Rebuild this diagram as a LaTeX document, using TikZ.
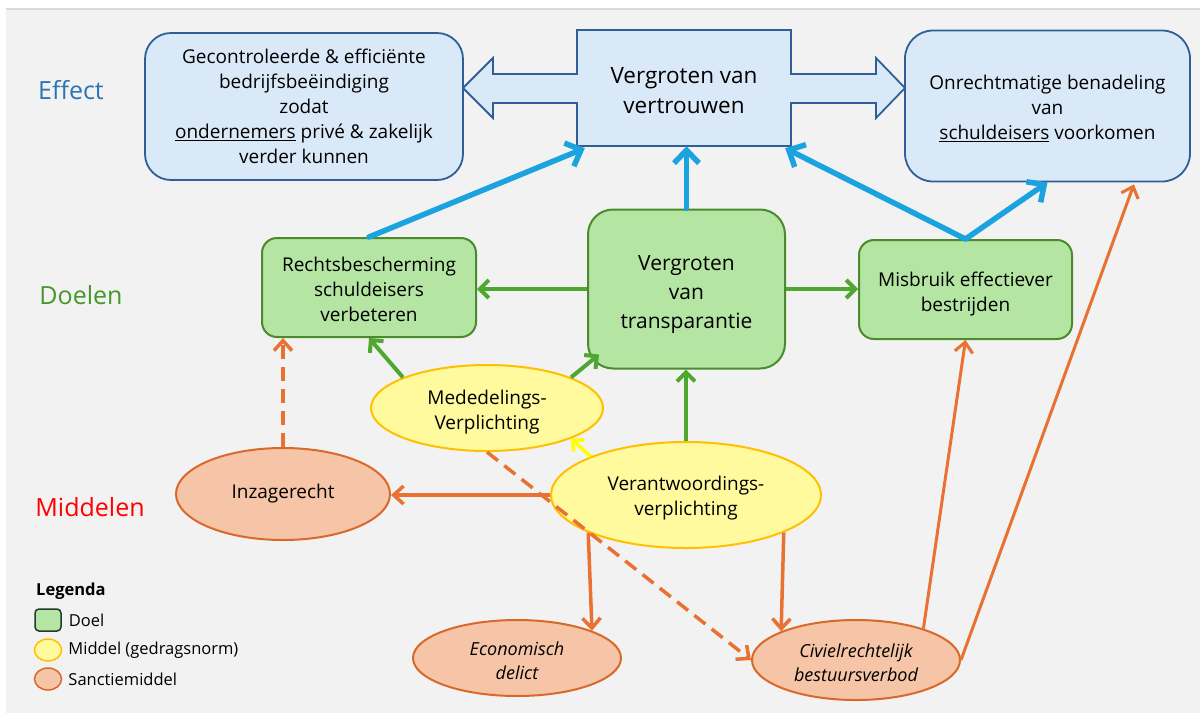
\documentclass[tikz,border=0pt]{standalone}
\usepackage{fontspec}
\setmainfont{Open Sans}
\usepackage{tikz}
\usetikzlibrary{positioning,arrows.meta,shapes,calc}

\definecolor{bgGrey}{HTML}{F2F2F2}
\definecolor{rimGrey}{HTML}{D9D9D9}
\definecolor{effectFill}{HTML}{DAE9F7}
\definecolor{effectLine}{HTML}{2F5F96}
\definecolor{effectText}{HTML}{2E74B5}
\definecolor{trustBlue}{HTML}{1AA3DE}
\definecolor{goalFill}{HTML}{B4E5A2}
\definecolor{goalLine}{HTML}{4C8A2E}
\definecolor{aimGreen}{HTML}{4EA72E}
\definecolor{meansFill}{HTML}{FFFA9E}
\definecolor{meansLine}{HTML}{FFC000}
\definecolor{signalYellow}{HTML}{FFFF00}
\definecolor{sanctFill}{HTML}{F6C4A6}
\definecolor{sanctLine}{HTML}{D9692B}
\definecolor{enforceOrange}{HTML}{E97132}
\definecolor{keyDark}{HTML}{1F3A2F}

\tikzset{
  effectbox/.style={draw=effectLine, fill=effectFill, line width=1.8pt,
    rounded corners=26pt, align=center, inner sep=0pt,
    font=\fontsize{19}{25}\selectfont},
  goal/.style={draw=goalLine, fill=goalFill, line width=2pt,
    rounded corners=15pt, align=center, inner sep=0pt,
    font=\fontsize{19}{25}\selectfont},
  means/.style={ellipse, draw=meansLine, fill=meansFill, line width=2pt,
    inner sep=0pt, align=center, font=\fontsize{19}{25}\selectfont},
  sanction/.style={ellipse, draw=sanctLine, fill=sanctFill, line width=2pt,
    inner sep=0pt, align=center, font=\fontsize{19}{25}\selectfont},
  trust/.style={draw=trustBlue, line width=5.5pt, line cap=round,
    -{Straight Barb[length=13pt,width=25pt]}},
  aim/.style={draw=aimGreen, line width=4pt,
    -{Straight Barb[length=9pt,width=18pt]}},
  signal/.style={draw=signalYellow, line width=3.5pt,
    -{Straight Barb[length=8pt,width=16pt]}},
  enforce/.style={draw=enforceOrange, line width=3.5pt,
    -{Straight Barb[length=10pt,width=18pt]}},
  hint/.style={enforce, dash pattern=on 14pt off 8pt},
  tier/.style={font=\fontsize{25}{30}\selectfont},
  keytext/.style={anchor=west, inner sep=0pt, font=\fontsize{16.5}{20}\selectfont},
  % keybox/.style={draw=keyDark, line width=1.5pt, minimum width=26, minimum height=22}
}

\begin{document}
\begin{tikzpicture}[x=1pt, y=-1pt]
  \useasboundingbox (0,0) rectangle (1200,713);
  \fill[white] (0,0) rectangle (1200,713);
  \fill[bgGrey] (6,9) rectangle (1200,713);
  \draw[rimGrey, line width=1.5pt] (6,9) -- (1200,9);

  % row labels
  \node[tier, text=effectText] (effect) at (71,90) {Effect};
  \node[tier, text=aimGreen!90!black] (doelen) at (81,295) {Doelen};
  \node[tier, text=red] (middelen) at (90,507) {Middelen};

  % effect row
  \draw[draw=effectLine, fill=effectFill, line width=1.8pt]
    (577,30) -- (791,30) -- (791,74) -- (876,74) -- (876,58) -- (905,88)
    -- (876,118) -- (876,103) -- (791,103) -- (791,146) -- (577,146)
    -- (577,103) -- (493,103) -- (493,118) -- (463,88) -- (493,58)
    -- (493,74) -- (577,74) -- cycle;
  \node[minimum width=214, minimum height=110, inner sep=0pt, align=center,
    font=\fontsize{22.5}{30}\selectfont] (vertrouwen) at (684,91)
    {Vergroten van\\vertrouwen};
  \node[effectbox, minimum width=318, minimum height=147] (bedrijf) at (304,106.5)
    {Gecontroleerde \& efficiënte\\bedrijfsbeëindiging\\zodat\\
     \underline{ondernemers} privé \& zakelijk\\verder kunnen};
  \node[effectbox, rounded corners=28pt, minimum width=285, minimum height=151] (onrecht) at (1047.5,106)
    {\rule{0pt}{20pt}Onrechtmatige benadeling\\van\\\underline{schuldeisers} voorkomen};

  % goals
  \node[goal, minimum width=214, minimum height=99] (rechts) at (369,287.5)
    {\rule{0pt}{18pt}Rechtsbescherming\\schuldeisers\\verbeteren};
  \node[goal, rounded corners=25pt, minimum width=197, minimum height=159,
    font=\fontsize{21}{29}\selectfont] (transp) at (686.5,289)
    {\rule{0pt}{26pt}Vergroten\\van\\transparantie};
  \node[goal, minimum width=213, minimum height=99] (misbruik) at (965.5,289.5)
    {\rule{0pt}{24pt}Misbruik effectiever\\bestrijden};

  % means
  \node[means, minimum width=232, minimum height=86] (mededeling) at (487,408)
    {\rule{0pt}{22pt}Mededelings-\\Verplichting};
  \node[means, minimum width=270, minimum height=106] (verantw) at (686,495)
    {\rule{0pt}{20pt}Verantwoordings-\\verplichting};
  \node[sanction, minimum width=214, minimum height=92] (inzage) at (283,494)
    {Inzagerecht};
  \node[sanction, minimum width=208, minimum height=76,
    font=\fontsize{18}{24}\selectfont\itshape] (economisch) at (517,658)
    {\rule{0pt}{20pt}Economisch\\delict};
  \node[sanction, minimum width=208, minimum height=80,
    font=\fontsize{18}{24}\selectfont\itshape] (civiel) at (856,660)
    {\rule{0pt}{20pt}Civielrechtelijk\\bestuursverbod};

  % connectors
  \draw[trust] (rechts.north) -- ($(vertrouwen.south west)+(8,2)$);
  \draw[trust] (transp.north) -- (transp.north |- vertrouwen.south);
  \draw[trust] (misbruik.north) -- ($(vertrouwen.south east)+(-6,2)$);
  \draw[trust] (misbruik.north) -- (onrecht.south);

  \draw[aim] (transp.west) -- (transp.west -| rechts.east);
  \draw[aim] (transp.east) -- (transp.east -| misbruik.west);
  \draw[aim] (mededeling.160) -- (rechts.south);
  \draw[aim] (mededeling.20) -- ($(transp.south west)+(12,-15)$);
  \draw[aim] (verantw.north) -- (verantw.north |- transp.south);

  \draw[signal] (verantw.158) -- (mededeling.-20);

  \draw[enforce] (verantw.west) -- (verantw.west -| inzage.east);
  \draw[hint] (inzage.north) -- (inzage.north |- rechts.south);
  \draw[hint] (mededeling.south) -- (civiel.west);
  \draw[enforce] (verantw.201) -- (economisch.20);
  \draw[enforce] (verantw.-21) -- (civiel.159);
  \draw[enforce, line width=3pt] (civiel.25) -- (misbruik.south);
  \draw[enforce, line width=3pt] (civiel.east) -- ($(onrecht.south east)+(-57,2)$);

  % legend
  \node[anchor=west, inner sep=0pt, font=\fontsize{16.5}{20}\selectfont\bfseries] (legenda) at (36,591) {Legenda};
  \node[draw=keyDark, fill=goalFill, line width=1.5pt, rounded corners=4pt,
    minimum width=26, minimum height=22, inner sep=0pt] (keydoel) at (48,620) {};
  \node[keytext, right=7pt of keydoel] (doel) {Doel};
  \node[ellipse, draw=meansLine, fill=meansFill, line width=1.5pt,
    minimum width=27, minimum height=22, inner sep=0pt] (keymiddel) at (48,650) {};
  \node[keytext, right=6pt of keymiddel] (middel) {Middel (gedragsnorm)};
  \node[ellipse, draw=sanctLine, fill=sanctFill, line width=1.5pt,
    minimum width=27, minimum height=22, inner sep=0pt] (keysanctie) at (48,679) {};
  \node[keytext, right=6pt of keysanctie] (sanctie) {Sanctiemiddel};
\end{tikzpicture}
\end{document}
